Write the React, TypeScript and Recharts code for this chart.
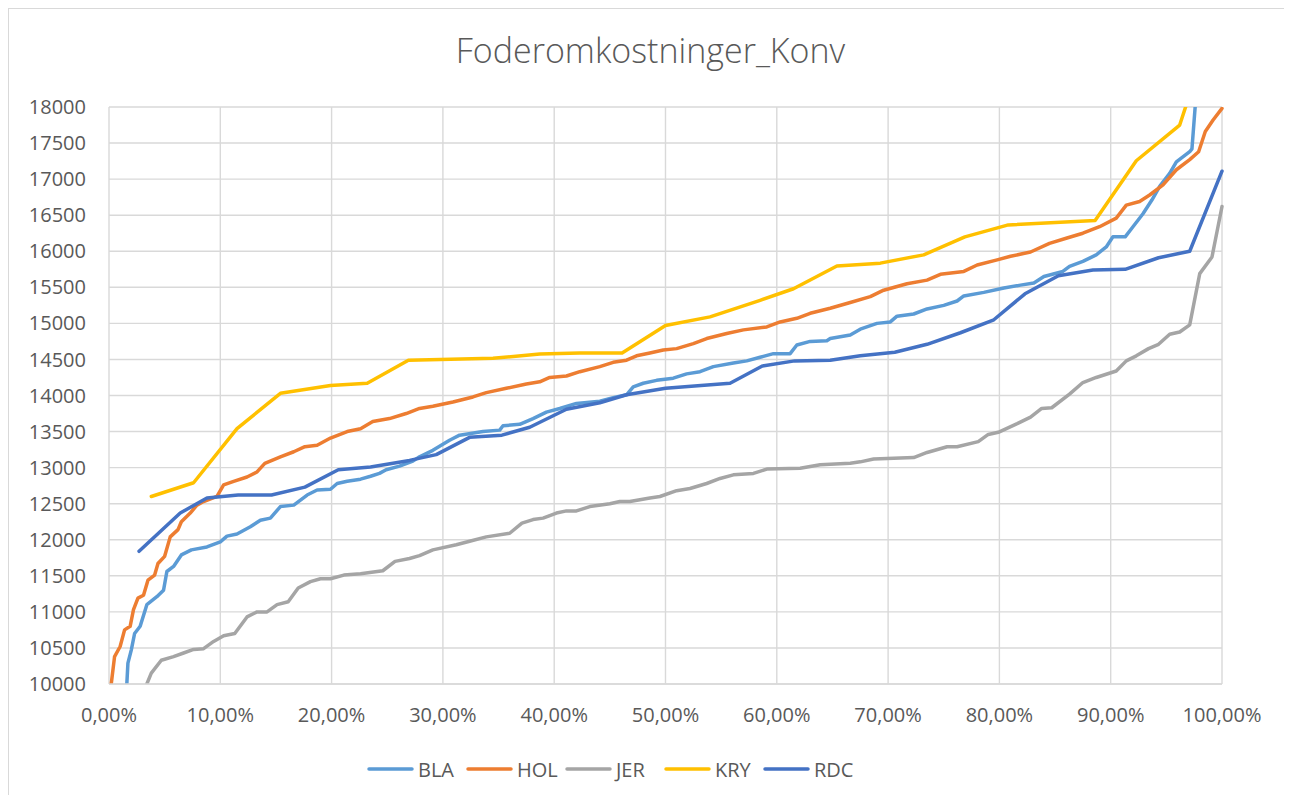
import React from "react";
import { LineChart, Line, XAxis, YAxis, CartesianGrid, Legend } from "recharts";

// x = share of herds (%), y = feed cost
const xTicks = [0, 10, 20, 30, 40, 50, 60, 70, 80, 90, 100];
const yTicks = [
  10000, 10500, 11000, 11500, 12000, 12500, 13000, 13500, 14000, 14500, 15000, 15500, 16000,
  16500, 17000, 17500, 18000,
];

const blaPoints: [number, number][] = [
  [1.5, 9700], [1.7, 10290], [2.0, 10470], [2.3, 10700], [2.8, 10800], [3.4, 11100], [4.3, 11210],
  [4.9, 11300], [5.2, 11560], [5.8, 11630], [6.5, 11790], [7.4, 11860], [8.8, 11900], [10.0, 11970],
  [10.6, 12050], [11.5, 12080], [12.7, 12180], [13.6, 12270], [14.5, 12300], [15.4, 12460],
  [16.6, 12480], [17.8, 12620], [18.7, 12690], [19.9, 12700], [20.5, 12780], [21.4, 12810],
  [22.6, 12840], [23.5, 12880], [24.3, 12920], [24.9, 12970], [26.1, 13020], [27.3, 13090],
  [27.9, 13150], [29.1, 13240], [30.6, 13380], [31.5, 13450], [33.6, 13500], [35.1, 13520],
  [35.4, 13580], [36.9, 13600], [38.1, 13680], [39.3, 13770], [40.5, 13820], [42.0, 13890],
  [44.1, 13920], [45.3, 13970], [46.5, 14010], [47.1, 14120], [48.0, 14170], [49.2, 14210],
  [50.7, 14240], [51.9, 14300], [53.1, 14330], [54.3, 14400], [56.1, 14450], [57.3, 14480],
  [58.5, 14530], [59.7, 14580], [61.2, 14580], [61.8, 14700], [63.0, 14750], [64.5, 14760],
  [64.8, 14790], [66.6, 14840], [67.5, 14920], [69.0, 15000], [70.2, 15020], [70.8, 15100],
  [72.3, 15130], [73.5, 15200], [75.0, 15250], [76.2, 15310], [76.8, 15380], [78.6, 15430],
  [80.4, 15490], [81.9, 15530], [83.1, 15560], [84.0, 15650], [85.7, 15720], [86.3, 15790],
  [87.5, 15860], [88.7, 15950], [89.6, 16060], [90.2, 16200], [91.3, 16200], [92.0, 16340],
  [92.9, 16520], [93.7, 16710], [94.4, 16900], [95.3, 17080], [95.9, 17240], [97.1, 17380],
  [97.3, 17420], [98.0, 18830],
];

const holPoints: [number, number][] = [
  [0.1, 9700], [0.2, 10000], [0.5, 10380], [1.0, 10520], [1.4, 10750], [1.9, 10800], [2.2, 11030],
  [2.6, 11190], [3.1, 11230], [3.5, 11440], [4.1, 11510], [4.4, 11670], [5.0, 11770], [5.5, 12040],
  [6.2, 12140], [6.5, 12250], [7.3, 12370], [7.9, 12480], [8.5, 12530], [9.7, 12600], [10.3, 12760],
  [11.2, 12810], [12.4, 12870], [13.3, 12940], [14.0, 13060], [15.4, 13150], [16.6, 13220],
  [17.6, 13290], [18.7, 13310], [19.9, 13410], [21.4, 13500], [22.6, 13540], [23.7, 13640],
  [25.2, 13680], [26.7, 13750], [27.9, 13820], [29.1, 13850], [30.9, 13910], [32.7, 13980],
  [33.9, 14040], [35.7, 14100], [37.5, 14160], [38.7, 14190], [39.6, 14250], [41.1, 14270],
  [42.3, 14330], [44.1, 14400], [45.3, 14460], [46.5, 14490], [47.4, 14550], [48.6, 14590],
  [49.8, 14630], [51.0, 14650], [52.5, 14720], [53.7, 14790], [55.5, 14860], [57.0, 14910],
  [59.1, 14950], [60.3, 15020], [61.8, 15070], [63.0, 15140], [64.8, 15210], [66.6, 15290],
  [68.4, 15370], [69.6, 15460], [71.7, 15550], [73.5, 15600], [74.7, 15680], [76.8, 15720],
  [78.0, 15810], [79.8, 15880], [81.0, 15930], [82.8, 15990], [84.5, 16110], [86.0, 16180],
  [87.5, 16250], [89.0, 16340], [90.5, 16460], [91.4, 16640], [92.6, 16690], [93.5, 16780],
  [94.7, 16920], [95.9, 17130], [97.1, 17270], [97.9, 17380], [98.5, 17660], [99.2, 17820],
  [100, 17980],
];

const jerPoints: [number, number][] = [
  [3.3, 9800], [3.4, 10000], [3.8, 10150], [4.7, 10330], [5.8, 10380], [6.7, 10430], [7.6, 10480],
  [8.5, 10490], [9.4, 10590], [10.3, 10670], [11.3, 10700], [12.4, 10930], [13.3, 11000],
  [14.2, 11000], [15.1, 11100], [16.1, 11140], [17.0, 11330], [18.1, 11420], [19.0, 11460],
  [19.9, 11460], [21.1, 11510], [22.6, 11530], [24.6, 11570], [25.7, 11700], [27.0, 11740],
  [27.9, 11780], [29.1, 11860], [31.2, 11930], [32.4, 11980], [33.9, 12040], [36.0, 12090],
  [37.1, 12230], [38.1, 12280], [39.0, 12300], [40.2, 12370], [41.1, 12400], [42.0, 12400],
  [43.2, 12460], [45.0, 12500], [45.9, 12530], [46.8, 12530], [48.6, 12580], [49.5, 12600],
  [51.0, 12680], [52.2, 12710], [53.7, 12780], [54.9, 12850], [56.1, 12900], [57.9, 12920],
  [59.1, 12980], [62.1, 12990], [63.9, 13040], [66.6, 13060], [67.5, 13080], [68.7, 13120],
  [72.3, 13140], [73.5, 13210], [75.3, 13290], [76.2, 13290], [78.1, 13360], [79.0, 13460],
  [79.9, 13490], [81.6, 13610], [82.8, 13700], [83.8, 13820], [84.7, 13830], [86.3, 14020],
  [87.5, 14180], [88.7, 14250], [90.5, 14340], [91.4, 14480], [92.3, 14550], [93.4, 14650],
  [94.3, 14710], [95.3, 14850], [96.2, 14880], [97.1, 14980], [98.0, 15690], [99.1, 15920],
  [100, 16620],
];

const kryPoints: [number, number][] = [
  [3.8, 12600], [7.6, 12790], [11.5, 13540], [15.4, 14030], [19.9, 14140], [23.2, 14170],
  [26.9, 14490], [34.5, 14515], [38.7, 14575], [42.3, 14590], [46.1, 14590], [50.0, 14970],
  [54.0, 15090], [58.5, 15320], [61.5, 15480], [65.4, 15795], [69.3, 15835], [73.2, 15950],
  [76.9, 16200], [80.8, 16365], [88.6, 16425], [92.3, 17255], [96.2, 17750], [98.0, 18600],
];

const rdcPoints: [number, number][] = [
  [2.7, 11840], [6.4, 12370], [8.8, 12580], [11.6, 12620], [14.6, 12620], [17.6, 12730],
  [20.6, 12970], [23.5, 13010], [27.0, 13100], [29.4, 13180], [32.4, 13420], [35.3, 13450],
  [37.8, 13560], [41.1, 13810], [44.1, 13900], [46.5, 14010], [50.0, 14100], [55.8, 14170],
  [58.7, 14410], [61.6, 14480], [64.8, 14490], [67.5, 14550], [70.6, 14600], [73.5, 14710],
  [76.5, 14870], [79.5, 15050], [82.3, 15410], [85.3, 15660], [88.4, 15740], [91.3, 15750],
  [94.3, 15910], [97.1, 16000], [100, 17110],
];

const series = [
  { name: "BLA", color: "#5B9BD5", points: blaPoints },
  { name: "HOL", color: "#ED7D31", points: holPoints },
  { name: "JER", color: "#A5A5A5", points: jerPoints },
  { name: "KRY", color: "#FFC000", points: kryPoints },
  { name: "RDC", color: "#4472C4", points: rdcPoints },
];

const textColor = "#595959";
const gridColor = "#d9d9d9";
const font = '"Open Sans", "Liberation Sans", sans-serif';

const toRows = (pts: [number, number][]) => pts.map(([x, y]) => ({ x, y }));
const pctLabel = (v: number) => `${v.toFixed(2).replace(".", ",")}%`;

function LegendContent() {
  return (
    <div style={{ height: 30, display: "flex", alignItems: "center", paddingLeft: 358 }}>
      {series.map((s) => (
        <div key={s.name} style={{ width: 99, display: "flex", alignItems: "center" }}>
          <svg width={47} height={8} style={{ marginRight: 4 }}>
            <line x1={2} y1={4} x2={45} y2={4} stroke={s.color} strokeWidth={3.5} strokeLinecap="round" />
          </svg>
          <span style={{ fontSize: 20, color: textColor, fontFamily: font }}>{s.name}</span>
        </div>
      ))}
    </div>
  );
}

export default function App() {
  return (
    <div
      style={{
        position: "relative",
        width: 1275,
        height: 786,
        borderTop: `1px solid ${gridColor}`,
        borderLeft: `1px solid ${gridColor}`,
        background: "#fff",
        fontFamily: font,
      }}
    >
      <div
        style={{
          position: "absolute",
          top: 24,
          left: 0,
          width: 1283,
          textAlign: "center",
          fontSize: 34,
          lineHeight: "34px",
          fontWeight: 300,
          color: textColor,
        }}
      >
        Foderomkostninger_Konv
      </div>
      <LineChart width={1275} height={786} margin={{ top: 98, right: 62, bottom: 11, left: 20 }}>
        <CartesianGrid stroke={gridColor} strokeWidth={1.4} />
        <XAxis
          dataKey="x"
          type="number"
          domain={[0, 100]}
          ticks={xTicks}
          interval={0}
          tickFormatter={pctLabel}
          height={70}
          axisLine={{ stroke: gridColor, strokeWidth: 1.4 }}
          tickLine={false}
          tickSize={0}
          tickMargin={24}
          tick={{ fill: textColor, fontSize: 20, fontFamily: font }}
        />
        <YAxis
          type="number"
          domain={[10000, 18000]}
          ticks={yTicks}
          interval={0}
          allowDataOverflow
          width={80}
          axisLine={false}
          tickLine={false}
          tickSize={0}
          tickMargin={23}
          tick={{ fill: textColor, fontSize: 20, fontFamily: font }}
        />
        <Legend
          verticalAlign="bottom"
          content={() => <LegendContent />}
          wrapperStyle={{ left: 0, width: 1275, bottom: 11 }}
        />
        {series.map((s) => (
          <Line
            key={s.name}
            name={s.name}
            data={toRows(s.points)}
            dataKey="y"
            type="linear"
            stroke={s.color}
            strokeWidth={3.5}
            strokeLinejoin="round"
            strokeLinecap="round"
            dot={false}
            activeDot={false}
            isAnimationActive={false}
          />
        ))}
      </LineChart>
    </div>
  );
}
